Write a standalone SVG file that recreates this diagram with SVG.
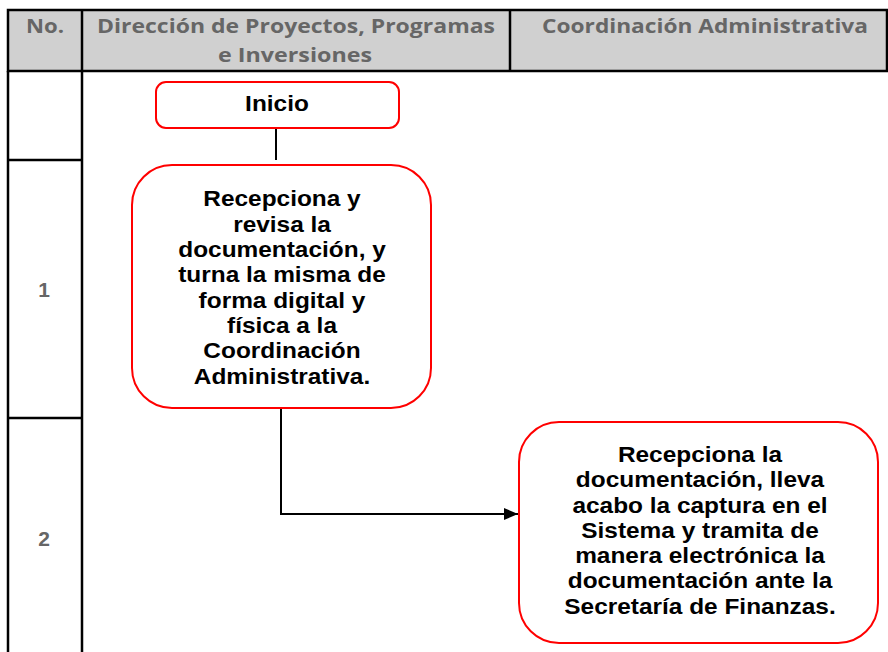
<svg xmlns="http://www.w3.org/2000/svg" width="888" height="652" viewBox="0 0 888 652">
<style>
.grid{stroke:#000;stroke-width:2.5;fill:none}
.hdrbg{stroke:#000;stroke-width:2.5;fill:#d0d0d0}
.hdr{font-family:"Open Sans","Liberation Sans",sans-serif;font-weight:bold;font-size:20px;fill:#666666;text-anchor:middle}
.num{font-family:"Liberation Sans",Arial,sans-serif;font-weight:bold;font-size:21px;fill:#666666;text-anchor:middle}
.box{fill:#fff;stroke:#ff0000;stroke-width:2}
.t{font-family:"Liberation Sans",Arial,sans-serif;font-weight:bold;font-size:22px;fill:#000;text-anchor:middle}
.conn{stroke:#000;stroke-width:2;fill:none}
</style>
<defs>
<marker id="arr" markerWidth="14" markerHeight="12" refX="14" refY="6" orient="auto" markerUnits="userSpaceOnUse">
<path d="M0,0 L14,6 L0,12 Z" fill="#000"/>
</marker>
</defs>
<rect width="888" height="652" fill="#fff"/>
<g id="table">
<rect x="8" y="10" width="879" height="61" class="hdrbg"/>
<line x1="82" y1="10" x2="82" y2="652" class="grid"/>
<line x1="510" y1="10" x2="510" y2="71" class="grid"/>
<line x1="8" y1="71" x2="8" y2="652" class="grid"/>
<line x1="8" y1="160" x2="82" y2="160" class="grid"/>
<line x1="8" y1="418" x2="82" y2="418" class="grid"/>
<text class="hdr" x="45" y="33" textLength="38" lengthAdjust="spacingAndGlyphs">No.</text>
<text class="hdr" x="296" y="33" textLength="398" lengthAdjust="spacingAndGlyphs">Dirección de Proyectos, Programas</text>
<text class="hdr" x="295" y="62" textLength="154" lengthAdjust="spacingAndGlyphs">e Inversiones</text>
<text class="hdr" x="705" y="33" textLength="326" lengthAdjust="spacingAndGlyphs">Coordinación Administrativa</text>
<text class="num" x="44" y="297">1</text>
<text class="num" x="44" y="546">2</text>
</g>
<g id="connectors">
<line x1="276" y1="128" x2="276" y2="160" class="conn"/>
<path d="M281,408 L281,514 L518,514" class="conn" marker-end="url(#arr)"/>
</g>
<g id="inicio">
<rect x="156" y="82" width="243" height="46" rx="10" class="box"/>
<g transform="translate(277,0) scale(1.11,1)"><text class="t" x="0" y="111.5">Inicio</text></g>
</g>
<g id="paso1">
<rect x="132" y="165" width="299" height="243" rx="40" class="box"/>
<g transform="translate(282,0) scale(1.11,1)">
<text class="t" x="0" y="206.5">Recepciona y</text>
<text class="t" x="0" y="232">revisa la</text>
<text class="t" x="0" y="257">documentación, y</text>
<text class="t" x="0" y="282.5">turna la misma de</text>
<text class="t" x="0" y="308">forma digital y</text>
<text class="t" x="0" y="333">física a la</text>
<text class="t" x="0" y="358.5">Coordinación</text>
<text class="t" x="0" y="384">Administrativa.</text>
</g>
</g>
<g id="paso2">
<rect x="519" y="422" width="359" height="221" rx="40" class="box"/>
<g transform="translate(700,0) scale(1.11,1)">
<text class="t" x="0" y="462">Recepciona la</text>
<text class="t" x="0" y="487.3">documentación, lleva</text>
<text class="t" x="0" y="512.6">acabo la captura en el</text>
<text class="t" x="0" y="537.9">Sistema y tramita de</text>
<text class="t" x="0" y="563.2">manera electrónica la</text>
<text class="t" x="0" y="588.5">documentación ante la</text>
<text class="t" x="0" y="613.8">Secretaría de Finanzas.</text>
</g>
</g>
</svg>
